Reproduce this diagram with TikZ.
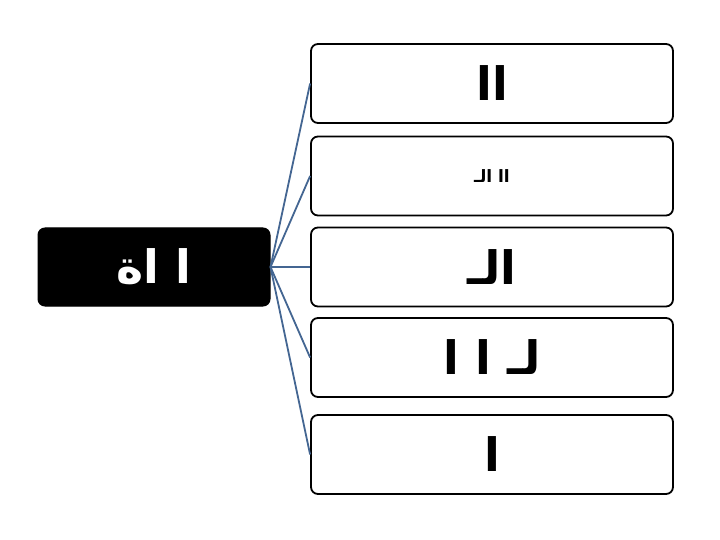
\documentclass[tikz,border=0pt]{standalone}
\usepackage{fontspec}
\newfontfamily\arabicfont[Script=Arabic]{DejaVu Sans}
\TeXXeTstate=1
\definecolor{linkblue}{RGB}{68,102,146}
\usetikzlibrary{positioning}

\tikzset{
  itembox/.style={draw=black, line width=1.8pt, rounded corners=7pt, fill=white,
    minimum width=362pt, minimum height=79pt, inner sep=0pt,
    font=\arabicfont\bfseries\fontsize{46}{46}\selectfont},
  rootbox/.style={draw=black, line width=1pt, rounded corners=7pt, fill=black, text=white,
    minimum width=232pt, minimum height=78pt, inner sep=0pt,
    font=\arabicfont\bfseries\fontsize{46}{46}\selectfont},
  link/.style={draw=linkblue, line width=1.8pt}
}

\begin{document}
\begin{tikzpicture}[x=1pt, y=-1pt]
  \useasboundingbox (0,0) rectangle (720,540);

  % root on the left
  \node[rootbox] (root) at (154,267) {\beginR ا اة\endR};

  % branches on the right
  \node[itembox] (b1) at (492,83.5) {\beginR اا\endR};
  \node[itembox, font=\arabicfont\bfseries\fontsize{17}{17}\selectfont] (b2) at (492,176) {\beginR اا الـ\endR};
  \node[itembox] (b3) at (492,267) {\beginR الـ\endR};
  \node[itembox] (b4) at (492,357.5) {\beginR لـ ا ا\endR};
  \node[itembox] (b5) at (492,454.5) {\beginR ا\endR};

  \foreach \b in {b1,b2,b3,b4,b5}
    \draw[link] (root.east) -- (\b.west);
\end{tikzpicture}
\end{document}
